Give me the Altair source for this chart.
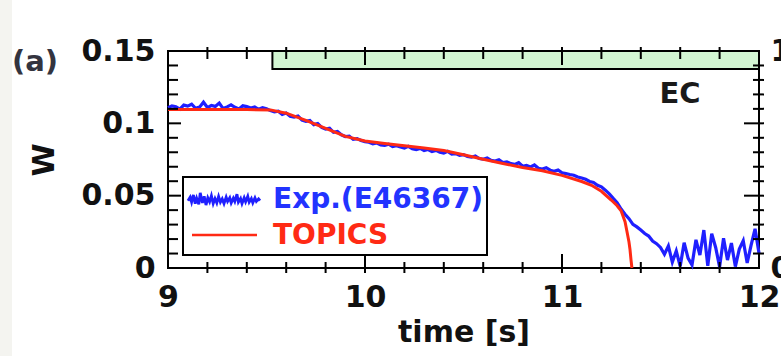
import altair as alt
import pandas as pd

# ---------------- data ----------------
exp_t0 = 9.0
exp_dt = 0.02
exp_W = [
    0.1108, 0.1121, 0.1115, 0.1098, 0.1126, 0.1119, 0.1132, 0.1104, 0.1112, 0.1146,
    0.1109, 0.1123, 0.1117, 0.1140, 0.1102, 0.1114, 0.1128, 0.1111, 0.1099, 0.1121,
    0.1116, 0.1106, 0.1113, 0.1097, 0.1108, 0.1101,
    0.1088, 0.1079, 0.1084, 0.1062, 0.1071, 0.1049, 0.1043, 0.1051, 0.1022, 0.1014,
    0.1019, 0.0991, 0.0998, 0.0972, 0.0961, 0.0966, 0.0938, 0.0944, 0.0921, 0.0909,
    0.0912, 0.0889, 0.0894, 0.0881, 0.0873,
    0.0869, 0.0858, 0.0864, 0.0851, 0.0848, 0.0856, 0.0839, 0.0845, 0.0836, 0.0829,
    0.0841, 0.0824, 0.0818, 0.0827, 0.0812, 0.0819, 0.0805, 0.0813, 0.0801, 0.0794,
    0.0806, 0.0787, 0.0791, 0.0779, 0.0784,
    0.0771, 0.0766, 0.0774, 0.0757, 0.0752, 0.0761, 0.0744, 0.0739, 0.0748, 0.0729,
    0.0734, 0.0721, 0.0716, 0.0728, 0.0703, 0.0709, 0.0698, 0.0712, 0.0689, 0.0684,
    0.0693, 0.0676, 0.0669, 0.0678, 0.0658,
    0.0652, 0.0646, 0.0641, 0.0629, 0.0622, 0.0613, 0.0598, 0.0591, 0.0572, 0.0561,
    0.0538, 0.0512, 0.0481, 0.0452, 0.0408, 0.0372, 0.0341, 0.0302, 0.0284, 0.0262,
    0.0238, 0.0221, 0.0186, 0.0168, 0.0142,
    0.0095, 0.0152, 0.0041, 0.0118, 0.0012, 0.0175, 0.0068, 0.0021, 0.0195, 0.0089,
    0.0262, 0.0015, 0.0238, 0.0142, 0.0008, 0.0206, 0.0055, 0.0172, 0.0010, 0.0131,
    0.0189, 0.0035, 0.0158, 0.0271, 0.0102,
]
exp_time = [round(exp_t0 + exp_dt * i, 2) for i in range(len(exp_W))]

topics_time = [9.0, 9.2, 9.4, 9.52, 9.6, 9.7, 9.8, 9.9, 10.0, 10.1, 10.2, 10.3, 10.4,
               10.5, 10.6, 10.7, 10.8, 10.9, 11.0, 11.1, 11.15, 11.2, 11.25, 11.28,
               11.30, 11.32, 11.33, 11.34, 11.345, 11.35, 11.355]
topics_W = [0.1095, 0.1095, 0.1095, 0.1093, 0.1070, 0.1020, 0.0965, 0.0910, 0.0878,
            0.0860, 0.0845, 0.0830, 0.0812, 0.0783, 0.0752, 0.0722, 0.0695, 0.0672,
            0.0640, 0.0598, 0.0572, 0.0530, 0.0470, 0.0430, 0.0395, 0.0320, 0.0250,
            0.0180, 0.0130, 0.0060, 0.0]

series_names = ["Exp.(E46367)", "TOPICS"]
series_colors = ["#1f1fff", "#ff2a14"]

ec_start = [9.53]
ec_end = [12.0]
ec_low = [0.917]
ec_high = [1.0]
ec_label = ["EC"]
panel_label = ["(a)"]

x_labels = [9, 10, 11, 12]
x_major = [10, 11]
x_minor = [9.2, 9.4, 9.6, 9.8, 10.2, 10.4, 10.6, 10.8, 11.2, 11.4, 11.6, 11.8]
y_labels = [0, 0.05, 0.1, 0.15]
y_major = [0.05, 0.1]
y_minor = [0.01, 0.02, 0.03, 0.04, 0.06, 0.07, 0.08, 0.09, 0.11, 0.12, 0.13, 0.14]
right_labels = [0, 1]

# ---------------- layout ----------------
FONT = "DejaVu Sans"
PW, PH = 591, 217

exp_df = pd.DataFrame({"t": exp_time, "W": exp_W})
top_df = pd.DataFrame({"t": topics_time, "W": topics_W})
ec_df = pd.DataFrame({"start": ec_start, "end": ec_end, "low": ec_low, "high": ec_high})

x_scale = alt.Scale(domain=[9, 12], nice=False, zero=False)
y_scale = alt.Scale(domain=[0, 0.15], nice=False, zero=False)

x_axis = alt.Axis(values=x_labels, format="d", title="time [s]", labelFont=FONT,
                  labelFontSize=30, labelFontWeight="bold", labelColor="#111",
                  labelPadding=14, labelFlush=False, ticks=False, domain=False,
                  grid=False, titleFont=FONT, titleFontSize=30, titleFontWeight="bold",
                  titleColor="#111", titleX=PW / 2, titleY=49, titleBaseline="top",
                  titleAlign="center")
y_axis = alt.Axis(orient="left", values=y_labels, format=".2~f", title="W", labelFont=FONT,
                  labelFontSize=30, labelFontWeight="bold", labelColor="#111",
                  labelPadding=13, ticks=False, domain=False, grid=False,
                  titleFont=FONT, titleFontSize=30, titleFontWeight="bold",
                  titleColor="#111", titleX=-124, titleY=PH / 2,
                  titleBaseline="middle", titleAlign="center")
r_axis = alt.Axis(orient="right", values=right_labels, format="d", title=None,
                  labelFont=FONT, labelFontSize=30, labelFontWeight="bold",
                  labelColor="#111", labelPadding=11, ticks=False, domain=False,
                  grid=False)

X = lambda f: alt.X(f, scale=x_scale, axis=x_axis)
Y = lambda f: alt.Y(f, scale=y_scale, axis=y_axis)

# right-scale group: EC band
ec_rect = alt.Chart(ec_df).mark_rect(fill="#d3f6d3", stroke="black", strokeWidth=2).encode(
    x=X("start:Q"), x2="end:Q",
    y=alt.Y("low:Q", scale=alt.Scale(domain=[0, 1], nice=False), axis=r_axis), y2="high:Q")
right_group = alt.layer(ec_rect)

# left-scale group
blue = alt.Chart(exp_df).mark_line(color=series_colors[0], strokeWidth=3.2).encode(
    x=X("t:Q"), y=Y("W:Q"))
red = alt.Chart(top_df).mark_line(color=series_colors[1], strokeWidth=3).encode(
    x=X("t:Q"), y=Y("W:Q"))

def yticks(vals, x0, x1):
    return alt.Chart(pd.DataFrame({"W": vals})).mark_rule(color="black", strokeWidth=2).encode(
        y=Y("W:Q"), x=alt.value(x0), x2=alt.value(x1))

def xticks(vals, y0, y1):
    return alt.Chart(pd.DataFrame({"t": vals})).mark_rule(color="black", strokeWidth=2).encode(
        x=X("t:Q"), y=alt.value(y0), y2=alt.value(y1))

tick_layers = [
    yticks(y_minor, 0, 10), yticks(y_major, 0, 13),
    yticks(y_minor, PW - 6, PW + 5), yticks(y_major, PW - 15, PW + 5),
    xticks(x_minor, PH - 6, PH + 5), xticks(x_major, PH - 14, PH + 5),
    xticks(x_minor, -4, 8), xticks(x_major, -4, 14),
]

leg_df = pd.DataFrame({"name": series_names})
legend_box = alt.Chart(leg_df.head(1)).mark_rect(fill="white", stroke="black", strokeWidth=2).encode(
    x=alt.value(15), x2=alt.value(319), y=alt.value(126), y2=alt.value(204))
jag = ("M-1,0.02L-0.94,-0.08L-0.9,0.06L-0.85,-0.14L-0.8,0.1L-0.76,-0.05L-0.7,0.12"
       "L-0.66,-0.2L-0.6,0.08L-0.55,-0.1L-0.5,0.14L-0.45,-0.06L-0.4,0.05L-0.35,-0.12"
       "L-0.3,0.1L-0.25,-0.04L-0.2,0.08L-0.15,-0.1L-0.1,0.06L-0.05,-0.03L0,0.1"
       "L0.06,-0.08L0.1,0.04L0.16,-0.06L0.2,0.08L0.26,-0.05L0.3,0.04L0.36,-0.16"
       "L0.4,0.06L0.46,-0.04L0.5,0.1L0.56,-0.06L0.6,0.05L0.66,-0.1L0.7,0.06"
       "L0.76,-0.04L0.8,0.08L0.86,-0.06L0.9,0.04L0.96,-0.03L1,0.02")
legend_blue = alt.Chart(leg_df.head(1)).mark_point(
    shape=jag, filled=False, stroke=series_colors[0], strokeWidth=2.8, size=5184, opacity=1
).encode(x=alt.value(56), y=alt.value(149))
legend_red = alt.Chart(leg_df.head(1)).mark_rule(color=series_colors[1], strokeWidth=2.5).encode(
    x=alt.value(24), x2=alt.value(89), y=alt.value(184))
legend_t1 = alt.Chart(leg_df.iloc[[0]]).mark_text(
    font=FONT, fontSize=28, fontWeight="bold", color="#2233ff", align="left",
    baseline="alphabetic").encode(x=alt.value(105), y=alt.value(157), text="name:N")
legend_t2 = alt.Chart(leg_df.iloc[[1]]).mark_text(
    font=FONT, fontSize=28, fontWeight="bold", color=series_colors[1], align="left",
    baseline="alphabetic").encode(x=alt.value(105), y=alt.value(193), text="name:N")

ec_text = alt.Chart(pd.DataFrame({"lab": ec_label})).mark_text(
    font=FONT, fontSize=29, fontWeight="bold", color="#1a1a1a", align="center",
    baseline="alphabetic").encode(x=alt.value(512), y=alt.value(52), text="lab:N")
panel_text = alt.Chart(pd.DataFrame({"lab": panel_label})).mark_text(
    font=FONT, fontSize=29, fontWeight="bold", color="#33343f", align="left",
    baseline="middle").encode(x=alt.value(-156), y=alt.value(11), text="lab:N")
edge_strip = alt.Chart(pd.DataFrame({"lab": panel_label})).mark_rect(fill="#f4f4f0").encode(
    x=alt.value(-168), x2=alt.value(-156), y=alt.value(-51), y2=alt.value(305))

left_group = alt.layer(edge_strip, blue, red, *tick_layers, legend_box, legend_blue,
                       legend_red, legend_t1, legend_t2, ec_text, panel_text)

chart = alt.layer(right_group, left_group).resolve_scale(y="independent").properties(
    width=PW, height=PH,
    padding={"left": 168, "top": 51, "right": 22, "bottom": 88},
    autosize=alt.AutoSizeParams(type="none"),
    background="white",
).configure_view(stroke="black", strokeWidth=2)

chart.save("out.html", embed_options={"renderer": "svg", "actions": False})
